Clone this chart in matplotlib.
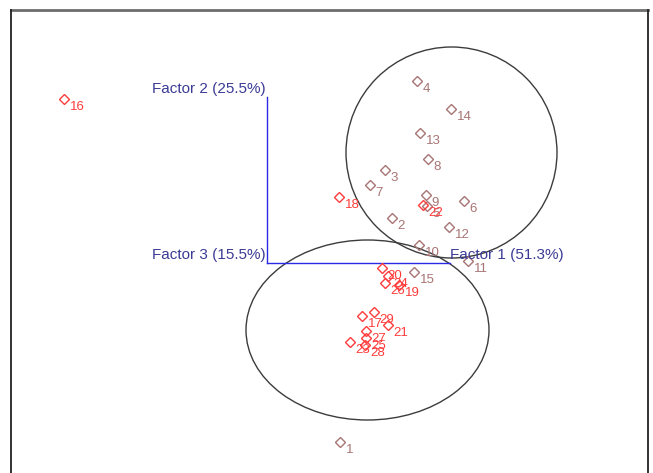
import matplotlib.pyplot as plt
from matplotlib.patches import Ellipse
from matplotlib.lines import Line2D

plt.rcParams['font.family'] = ['Liberation Sans', 'DejaVu Sans']

# factor scores, cases 1-15 (group A)
ids_a = [1, 2, 3, 4, 5, 6, 7, 8, 9, 10, 11, 12, 13, 14, 15]
x_a = [0.73, 1.25, 1.18, 1.50, 1.60, 1.97, 1.03, 1.61, 1.59, 1.52, 2.01, 1.82, 1.53, 1.84, 1.47]
y_a = [-1.79, 0.45, 0.93, 1.82, 0.57, 0.62, 0.78, 1.04, 0.68, 0.18, 0.02, 0.36, 1.30, 1.54, -0.09]

# factor scores, cases 16-29 (group B)
ids_b = [16, 17, 18, 19, 20, 21, 22, 23, 24, 25, 26, 27, 28, 29]
x_b = [-2.03, 0.95, 0.72, 1.32, 1.15, 1.21, 1.56, 0.83, 1.21, 0.99, 1.18, 0.99, 0.98, 1.07]
y_b = [1.64, -0.53, 0.66, -0.22, -0.05, -0.62, 0.58, -0.79, -0.13, -0.75, -0.20, -0.68, -0.82, -0.49]

axis_names = ['Factor 1 (51.3%)', 'Factor 2 (25.5%)', 'Factor 3 (15.5%)']
axis_len = [1.83, 1.66]

# group envelopes: centre x, centre y, width, height
env_a = (1.845, 1.105, 2.11, 2.11)
env_b = (1.005, -0.67, 2.43, 1.80)

col_a = '#a87474'
col_b = '#ff3c3c'
axis_col = '#2a2ae6'
text_col = '#3b3b96'

fig = plt.figure(figsize=(6.53, 4.73), dpi=100)
ax = fig.add_axes([0, 0, 1, 1])
ax.set_xlim(-2.67, 3.86)
ax.set_ylim(-2.10, 2.63)
ax.axis('off')

# frame
fig.add_artist(Line2D([11 / 653, 648 / 653], [1 - 10 / 473, 1 - 10 / 473], color='#6e6e6e', lw=2))
fig.add_artist(Line2D([11 / 653, 11 / 653], [0, 1 - 10 / 473], color='#222222', lw=1.3))
fig.add_artist(Line2D([648 / 653, 648 / 653], [0, 1 - 10 / 473], color='#222222', lw=1.3))

for e in (env_a, env_b):
    ax.add_patch(Ellipse((e[0], e[1]), e[2], e[3], fill=False, ec='#3c3c3c', lw=1))

# factor axes
ax.plot([0, 0], [0, axis_len[1]], color=axis_col, lw=1)
ax.plot([0, axis_len[0]], [0, 0], color=axis_col, lw=1)
ax.text(axis_len[0], 0.08, axis_names[0], color=text_col, fontsize=11, ha='left', va='center')
ax.text(-0.01, axis_len[1] + 0.08, axis_names[1], color=text_col, fontsize=11, ha='right', va='center')
ax.text(-0.01, 0.08, axis_names[2], color=text_col, fontsize=11, ha='right', va='center')

for ids, xs, ys, c in ((ids_a, x_a, y_a, col_a), (ids_b, x_b, y_b, col_b)):
    ax.plot(xs, ys, 'D', ms=5, mfc='none', mec=c, mew=1)
    for i, x, y in zip(ids, xs, ys):
        ax.annotate(str(i), (x, y), xytext=(4, -5.5), textcoords='offset points',
                    color=c, fontsize=9.5, ha='left', va='center')

fig.savefig('out.png', dpi=100)
